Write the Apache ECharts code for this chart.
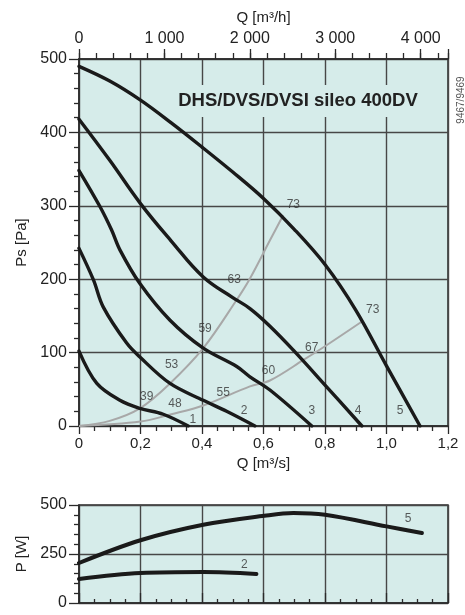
<!DOCTYPE html>
<html>
<head>
<meta charset="utf-8">
<script src="https://cdn.jsdelivr.net/npm/echarts@6/dist/echarts.min.js"></script>
<style>
html,body{margin:0;padding:0;background:#fff;}
#chart{width:465px;height:615px;}
</style>
</head>
<body>
<div id="chart"></div>
<script>
// Fan curves: [Q m3/s, Ps Pa]
const curve1 = [[0,102],[0.058,58],[0.133,35],[0.198,24],[0.274,16],[0.355,0]];
const curve2 = [[0,242],[0.047,199],[0.079,162],[0.155,113],[0.198,94],[0.296,58],[0.404,35],[0.48,20],[0.572,0]];
const curve3 = [[0,348],[0.068,299],[0.106,267],[0.133,240],[0.198,194],[0.296,144],[0.404,106],[0.513,81],[0.556,67],[0.621,49],[0.757,0]];
const curve4 = [[0,418],[0.1,362],[0.2,303],[0.3,252],[0.404,203],[0.5,175],[0.556,160],[0.621,136],[0.7,102],[0.806,53],[0.92,0]];
const curve5 = [[0,490],[0.1,470],[0.2,444],[0.3,413],[0.4,380],[0.5,346],[0.6,310],[0.7,268],[0.8,220],[0.9,158],[1.0,82],[1.109,0]];
// System curves (grey)
const sysA = [[0,0],[0.1,7],[0.198,24],[0.296,58],[0.404,106],[0.513,172],[0.556,201],[0.621,253],[0.664,287]];
const sysB = [[0,0],[0.2,6],[0.3,16],[0.404,28],[0.556,54],[0.621,62],[0.73,90],[0.805,110],[0.919,142]];
// Power curves: [Q m3/s, P W]
const power2 = [[0,122],[0.2,153],[0.404,158],[0.577,148]];
const power5 = [[0,204],[0.2,320],[0.404,399],[0.603,445],[0.697,459],[0.8,450],[1.0,391],[1.115,357]];
// Annotations: [Q, value, text]
const pressureLabels = [[0.697,301,'73'],[0.955,158,'73'],[0.757,107,'67'],[0.616,76,'60'],[0.505,200,'63'],[0.41,132,'59'],[0.301,83,'53'],[0.469,46,'55'],[0.22,40,'39'],[0.312,31,'48'],[0.37,8,'1'],[0.537,21,'2'],[0.757,21,'3'],[0.908,21,'4'],[1.044,21,'5']];
const powerLabels = [[0.538,195,'2'],[1.07,428,'5']];
// Axis ticks
const qTicks = [0,0.2,0.4,0.6,0.8,1.0,1.2];
const qhMax = 4320;
const psMax = 500;
const pwMax = 500;

const FONT = 'Liberation Sans, Arial, sans-serif';
const BG = '#d6ecea';
const GRIDC = '#474747';

const chart = echarts.init(document.getElementById('chart'), null, {renderer:'canvas'});

function blackLine(data, w, s){
  return {type:'line', data:data, smooth:s||0.35, symbol:'none', z:3,
    lineStyle:{color:'#1a1a1a', width:w||3.4, cap:'round'}};
}
function greyLine(data){
  return {type:'line', data:data, smooth:0.35, symbol:'none', z:2, xAxisIndex:0, yAxisIndex:0,
    lineStyle:{color:'#a8a8a8', width:2}};
}

const option = {
  animation:false,
  backgroundColor:'#fff',
  grid:[
    {left:79, right:17, top:59, bottom:189, show:true, backgroundColor:BG, borderColor:'#2a2a2a', borderWidth:1.5},
    {left:79, right:17, top:505, bottom:12, show:true, backgroundColor:BG, borderColor:'#2a2a2a', borderWidth:1.5}
  ],
  xAxis:[
    {gridIndex:0, type:'value', position:'bottom', min:qTicks[0], max:qTicks[qTicks.length-1], interval:0.2,
     name:'Q [m³/s]', nameLocation:'middle', nameGap:27, nameTextStyle:{fontFamily:FONT, fontSize:15, color:'#222'},
     axisLine:{show:true, lineStyle:{color:'#2a2a2a', width:1.5}},
     axisTick:{show:true, length:8, lineStyle:{color:'#2a2a2a', width:1.3}},
     minorTick:{show:true, splitNumber:4, length:5, lineStyle:{color:'#2a2a2a', width:1.3}},
     axisLabel:{fontFamily:FONT, fontSize:15, color:'#222', margin:10,
       formatter:v=> v===0 ? '0' : v.toFixed(1).replace('.',',')},
     splitLine:{show:true, lineStyle:{color:GRIDC, width:1.4}}},
    {gridIndex:0, type:'value', position:'top', min:0, max:qhMax, interval:1000,
     name:'Q [m³/h]', nameLocation:'middle', nameGap:34, nameTextStyle:{fontFamily:FONT, fontSize:15, color:'#222'},
     axisLine:{show:true, lineStyle:{color:'#2a2a2a', width:1.5}},
     axisTick:{show:true, length:10, lineStyle:{color:'#2a2a2a', width:1.3}},
     axisLabel:{fontFamily:FONT, fontSize:16, color:'#222', margin:12, showMaxLabel:true,
       formatter:v=> v===0 ? '0' : (v%1000===0 ? (v/1000)+' 000' : '')},
     splitLine:{show:false}},
    {gridIndex:0, type:'value', position:'top', min:0, max:qhMax, interval:200,
     axisLine:{show:false},
     axisTick:{show:true, length:6, lineStyle:{color:'#2a2a2a', width:1.3}},
     axisLabel:{show:false}, splitLine:{show:false}},
    {gridIndex:1, type:'value', position:'top', min:qTicks[0], max:qTicks[qTicks.length-1], interval:0.2,
     axisLine:{show:true, lineStyle:{color:'#2a2a2a', width:1.5}},
     axisTick:{show:true, length:10, lineStyle:{color:'#2a2a2a', width:1.3}},
     minorTick:{show:true, splitNumber:4, length:4, lineStyle:{color:'#2a2a2a', width:1.3}},
     axisLabel:{show:false},
     splitLine:{show:true, lineStyle:{color:GRIDC, width:1.4}}}
  ],
  yAxis:[
    {gridIndex:0, type:'value', min:0, max:psMax, interval:100,
     name:'Ps [Pa]', nameLocation:'middle', nameGap:36, nameTextStyle:{fontFamily:FONT, fontSize:15, color:'#222'},
     axisLine:{show:true, lineStyle:{color:'#2a2a2a', width:1.5}},
     axisTick:{show:true, length:10, lineStyle:{color:'#2a2a2a', width:1.3}},
     minorTick:{show:true, splitNumber:5, length:5, lineStyle:{color:'#2a2a2a', width:1.3}},
     axisLabel:{fontFamily:FONT, fontSize:16, color:'#222', margin:12},
     splitLine:{show:true, lineStyle:{color:GRIDC, width:1.4}}},
    {gridIndex:1, type:'value', min:0, max:pwMax, interval:250,
     name:'P [W]', nameLocation:'middle', nameGap:46, nameTextStyle:{fontFamily:FONT, fontSize:15, color:'#222'},
     axisLine:{show:true, lineStyle:{color:'#2a2a2a', width:1.5}},
     axisTick:{show:true, length:10, lineStyle:{color:'#2a2a2a', width:1.3}},
     minorTick:{show:true, splitNumber:5, length:5, lineStyle:{color:'#2a2a2a', width:1.3}},
     axisLabel:{fontFamily:FONT, fontSize:16, color:'#222', margin:12},
     splitLine:{show:true, lineStyle:{color:GRIDC, width:1.4}}}
  ],
  graphic:[
    {type:'rect', z:1, shape:{x:172, y:85, width:252, height:32}, style:{fill:BG}},
    {type:'text', z:5, x:298, y:101, style:{text:'DHS/DVS/DVSI sileo 400DV', font:'bold 18.5px '+FONT, fill:'#222', align:'center', verticalAlign:'middle'}},
    {type:'text', z:5, x:461, y:100, rotation:Math.PI/2, style:{text:'9467/9469', font:'10px '+FONT, fill:'#555', align:'center', verticalAlign:'middle'}}
  ],
  series:[
    greyLine(sysA),
    greyLine(sysB),
    Object.assign(blackLine(curve1), {xAxisIndex:0, yAxisIndex:0}),
    Object.assign(blackLine(curve2), {xAxisIndex:0, yAxisIndex:0}),
    Object.assign(blackLine(curve3), {xAxisIndex:0, yAxisIndex:0}),
    Object.assign(blackLine(curve4, 3.4, 0.4), {xAxisIndex:0, yAxisIndex:0}),
    Object.assign(blackLine(curve5, 3.4, 0.35), {xAxisIndex:0, yAxisIndex:0}),
    Object.assign(blackLine(power2, 4), {xAxisIndex:3, yAxisIndex:1}),
    Object.assign(blackLine(power5, 4), {xAxisIndex:3, yAxisIndex:1}),
    {type:'scatter', xAxisIndex:0, yAxisIndex:0, symbolSize:0, z:6, data:pressureLabels,
     label:{show:true, position:'inside', formatter:p=>p.data[2], fontFamily:FONT, fontSize:12, color:'#333'}},
    {type:'scatter', xAxisIndex:3, yAxisIndex:1, symbolSize:0, z:6, data:powerLabels,
     label:{show:true, position:'inside', formatter:p=>p.data[2], fontFamily:FONT, fontSize:12, color:'#333'}}
  ]
};
chart.setOption(option);
</script>
</body>
</html>
